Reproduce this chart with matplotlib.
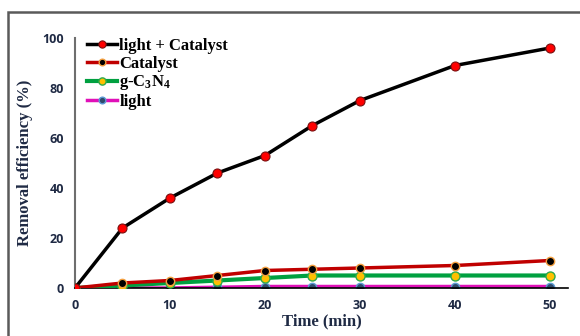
import matplotlib.pyplot as plt
from matplotlib.patches import Rectangle

# time points (min)
time_min = [0, 5, 10, 15, 20, 25, 30, 40, 50]

# removal efficiency (%) per condition
light_catalyst = [0, 24, 36, 46, 53, 65, 75, 89, 96]
catalyst = [0, 2, 3, 5, 7, 7.5, 8, 9, 11]
g_c3n4 = [0, 1, 2, 3, 4, 5, 5, 5, 5]
light_only = [0, 0, 0, 0.3, 0.6, 0.6, 0.6, 0.6, 0.6]

labels = ['light + Catalyst', 'Catalyst', 'g-C$_3$N$_4$', 'light']
xticks = [0, 10, 20, 30, 40, 50]
yticks = [0, 20, 40, 60, 80, 100]

navy = '#1F2A44'
plt.rcParams['mathtext.default'] = 'regular'

fig = plt.figure(figsize=(5.8, 3.36), dpi=100)
# outer chart frame
fig.patches.append(Rectangle((8 / 580, -0.1), 1.2, 1 - 12 / 336 + 0.1,
                             transform=fig.transFigure, fill=False,
                             edgecolor='#5a5a5a', linewidth=1.8))

ax = fig.add_axes([75 / 580, 1 - 288 / 336, (568 - 75) / 580, 250 / 336])

ax.plot(time_min, light_only, color='#E010B8', lw=2.5, marker='o', ms=6,
        mfc='#2F4A6A', mec='#5B9BD5', mew=1, label=labels[3], zorder=2)
ax.plot(time_min, g_c3n4, color='#00A040', lw=3, marker='o', ms=6.5,
        mfc='#FFC000', mec='#2EAA4A', mew=1, label=labels[2], zorder=3)
ax.plot(time_min, catalyst, color='#C00000', lw=2.5, marker='o', ms=6,
        mfc='black', mec='#F4A040', mew=1, label=labels[1], zorder=4)
ax.plot(time_min, light_catalyst, color='black', lw=2.5, marker='o', ms=6.5,
        mfc='#FF0000', mec='#7a1010', mew=0.8, label=labels[0], zorder=5)

ax.set_xlim(0, 51.9)
ax.set_ylim(0, 100)
ax.set_xticks(xticks)
ax.set_yticks(yticks)
ax.tick_params(length=0, pad=8)
for t in ax.get_xticklabels() + ax.get_yticklabels():
    t.set_fontfamily('Open Sans')
    t.set_fontweight('bold')
    t.set_fontsize(9)
    t.set_color(navy)

ax.spines['top'].set_visible(False)
ax.spines['right'].set_visible(False)
ax.spines['left'].set_color('#6e6e6e')
ax.spines['left'].set_linewidth(1.5)
ax.spines['bottom'].set_color('black')
ax.spines['bottom'].set_linewidth(1.2)

ax.set_xlabel('Time (min)', fontfamily='Liberation Serif', fontweight='bold',
              fontsize=12, color=navy, labelpad=1)
ax.set_ylabel('Removal efficiency (%)', fontfamily='Liberation Serif',
              fontweight='bold', fontsize=12, color=navy, labelpad=7)

h, l = ax.get_legend_handles_labels()
ax.legend(h[::-1], l[::-1], loc='upper left', bbox_to_anchor=(0.024, 1.0),
          frameon=False, handlelength=1.8, handletextpad=0.15,
          labelspacing=0.1, borderaxespad=0, borderpad=0, markerscale=0.8,
          prop={'family': 'Liberation Serif', 'weight': 'bold', 'size': 12})

fig.savefig('out.png', dpi=100)
